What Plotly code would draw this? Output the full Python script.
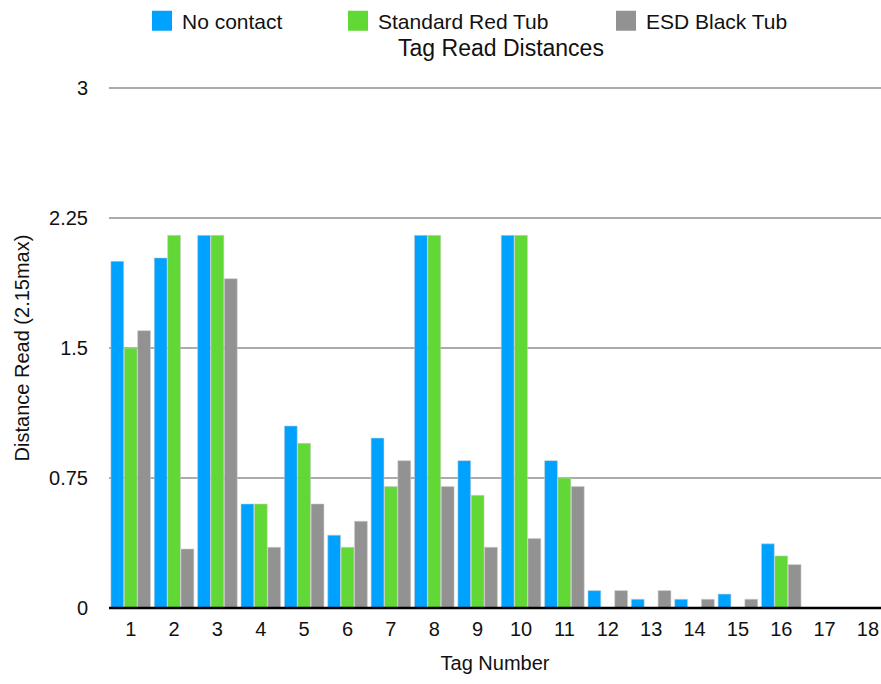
import plotly.graph_objects as go

# Tag read distances per tag (units: distance read, capped at 2.15)
tags = list(range(1, 19))
no_contact = [2.00, 2.02, 2.15, 0.60, 1.05, 0.42, 0.98, 2.15, 0.85, 2.15, 0.85, 0.10, 0.05, 0.05, 0.08, 0.37, 0, 0]
standard_red_tub = [1.50, 2.15, 2.15, 0.60, 0.95, 0.35, 0.70, 2.15, 0.65, 2.15, 0.75, 0, 0, 0, 0, 0.30, 0, 0]
esd_black_tub = [1.60, 0.34, 1.90, 0.35, 0.60, 0.50, 0.85, 0.70, 0.35, 0.40, 0.70, 0.10, 0.10, 0.05, 0.05, 0.25, 0, 0]

series_names = ["No contact", "Standard Red Tub", "ESD Black Tub"]
series_values = [no_contact, standard_red_tub, esd_black_tub]
series_colors = ["#00A2FF", "#61D836", "#929292"]
legend_ids = ["legend", "legend2", "legend3"]

y_ticks = [0, 0.75, 1.5, 2.25, 3]
y_tick_text = ["0", "0.75", "1.5", "2.25", "3"]

FONT = "Liberation Sans, Helvetica, Arial, sans-serif"

fig = go.Figure()

for name, vals, color, lg in zip(series_names, series_values, series_colors, legend_ids):
    fig.add_trace(go.Bar(
        x=tags, y=vals, name=name, legendgroup=name, showlegend=False,
        marker=dict(color=color, line=dict(color="rgba(205,205,205,0.7)", width=0.8)),
    ))
    # square legend swatch for the series
    fig.add_trace(go.Scatter(
        x=[None], y=[None], mode="markers", name=name, legendgroup=name, legend=lg,
        marker=dict(symbol="square", size=16, color=color, line=dict(color=color, width=4)),
    ))

legend_style = dict(orientation="h", font=dict(family=FONT, size=21, color="#111"),
                    bgcolor="rgba(0,0,0,0)", itemsizing="trace",
                    xanchor="left", yanchor="middle", yref="container", xref="container",
                    tracegroupgap=0, itemclick=False, itemdoubleclick=False)

fig.update_layout(
    width=881, height=684,
    margin=dict(l=109, r=0, t=86, b=74),
    paper_bgcolor="white", plot_bgcolor="white",
    font=dict(family=FONT, size=20, color="#111"),
    barmode="group", bargap=0.075, bargroupgap=0.04,
    title=dict(text="Tag Read Distances", font=dict(family=FONT, size=23, color="#111"),
               x=501 / 881, xanchor="center", xref="container",
               y=1 - 48 / 684, yanchor="middle", yref="container"),
    legend=dict(legend_style, x=142 / 881, y=1 - 21 / 684),
    legend2=dict(legend_style, x=338 / 881, y=1 - 21 / 684),
    legend3=dict(legend_style, x=606 / 881, y=1 - 21 / 684),
    xaxis=dict(
        range=[0.5, 18.3], tickvals=tags, ticktext=[str(t) for t in tags],
        showgrid=False, zeroline=False, showline=False,
        ticks="", ticklabelstandoff=5, tickfont=dict(size=20),
        title=dict(text="Tag Number", font=dict(size=20), standoff=16),
        automargin=False,
    ),
    yaxis=dict(
        range=[-0.012, 3.012], tickvals=y_ticks, ticktext=y_tick_text,
        showgrid=True, gridcolor="#ababab", gridwidth=1.5, zeroline=False,
        ticks="", ticklabelstandoff=20, tickfont=dict(size=20),
        title=dict(text="Distance Read (2.15max)", font=dict(size=20), standoff=14),
        automargin=False,
    ),
    # baseline drawn above the bars
    shapes=[dict(type="line", xref="paper", x0=0, x1=1, yref="y", y0=0, y1=0,
                 line=dict(color="black", width=2.5), layer="above")],
)

fig.write_html("out.html")
